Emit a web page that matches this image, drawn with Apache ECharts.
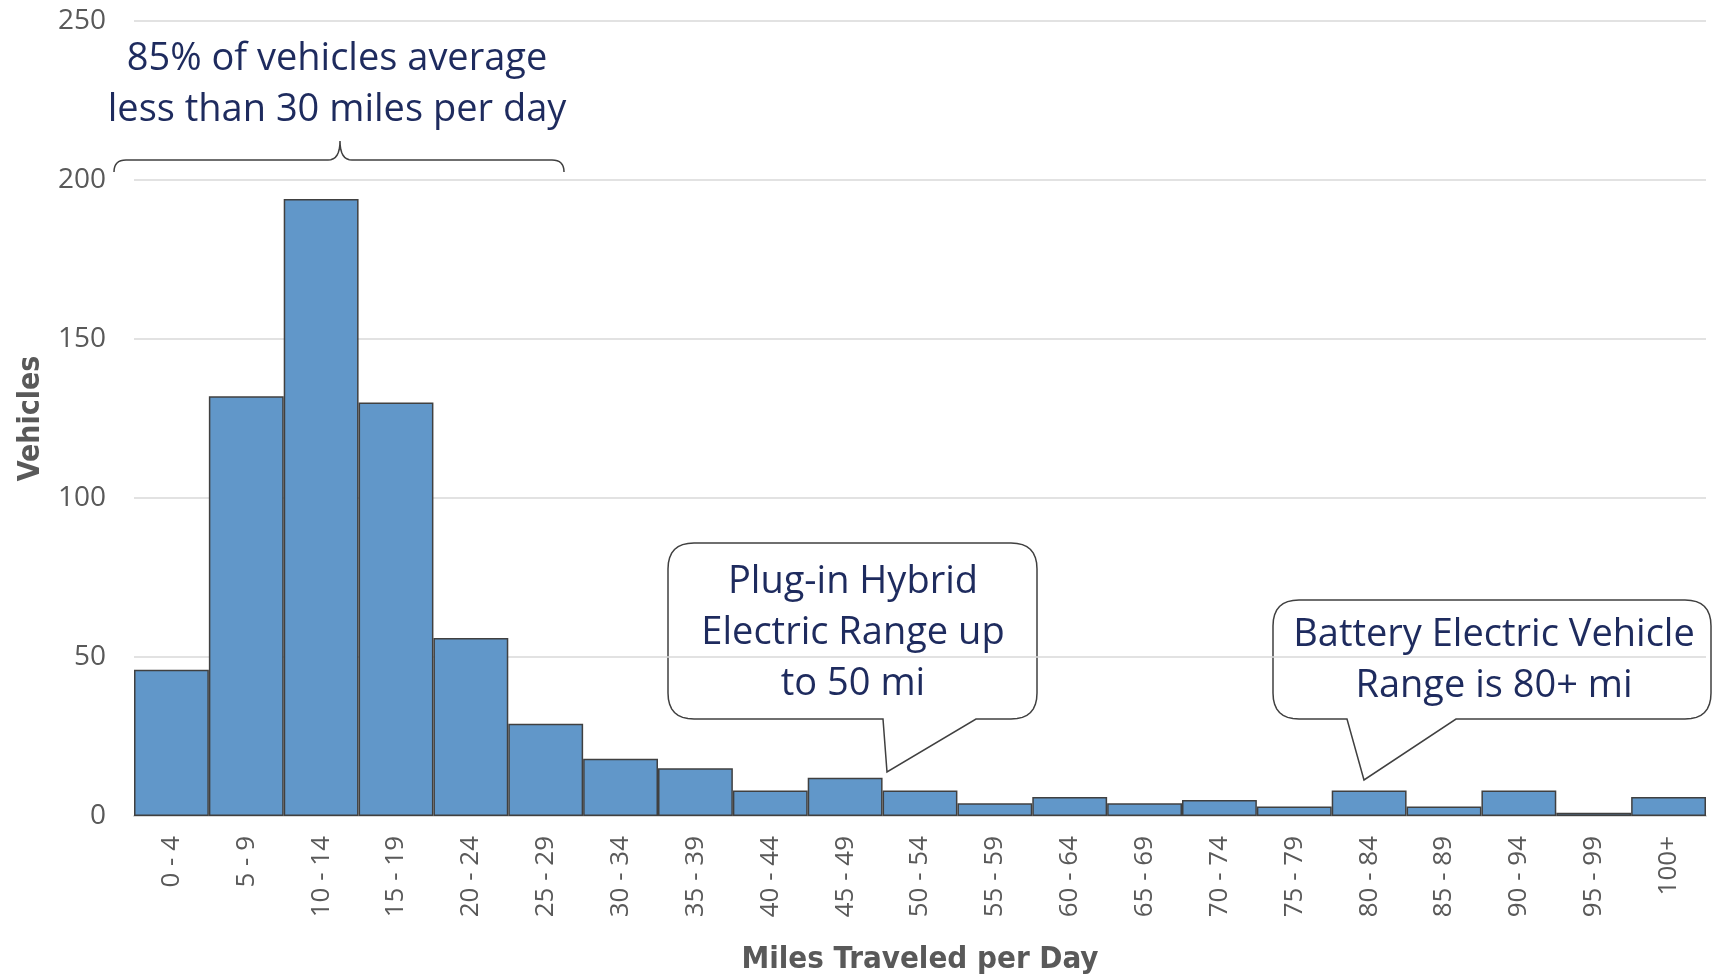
<!DOCTYPE html>
<html>
<head>
<meta charset="utf-8">
<script src="https://cdn.jsdelivr.net/npm/echarts@6/dist/echarts.min.js"></script>
<style>
  html, body { margin: 0; padding: 0; background: #fff; }
  #chart { width: 1713px; height: 977px; }
</style>
</head>
<body>
<div id="chart"></div>
<script>
// miles bins and vehicle counts
const categories = ['0 - 4', '5 - 9', '10 - 14', '15 - 19', '20 - 24', '25 - 29', '30 - 34', '35 - 39',
  '40 - 44', '45 - 49', '50 - 54', '55 - 59', '60 - 64', '65 - 69', '70 - 74', '75 - 79',
  '80 - 84', '85 - 89', '90 - 94', '95 - 99', '100+'];
const vehicles = [46, 132, 194, 130, 56, 29, 18, 15, 8, 12, 8, 4, 6, 4, 5, 3, 8, 3, 8, 1, 6];
const yTicks = [0, 50, 100, 150, 200, 250];

const navy = '#1E2B5E';
const grey = '#595959';
const noteFont = '38px "Open Sans", sans-serif';

const chart = echarts.init(document.getElementById('chart'));

// sample a quadratic curve p0 -> p2 with control p1 into points
const quad = (p0, p1, p2, n = 8) => {
	const pts = [];
	for (let i = 1; i <= n; i++) {
		const t = i / n, u = 1 - t;
		pts.push([u * u * p0[0] + 2 * u * t * p1[0] + t * t * p2[0], u * u * p0[1] + 2 * u * t * p1[1] + t * t * p2[1]]);
	}
	return pts;
};

// rounded box with a pointer on the bottom edge
const callout = (L, R, T, B, r, xa, xb, tip) => [
	[L + r, T], [R - r, T],
	...quad([R - r, T], [R, T], [R, T + r]),
	[R, B - r],
	...quad([R, B - r], [R, B], [R - r, B]),
	[xb, B], tip, [xa, B], [L + r, B],
	...quad([L + r, B], [L, B], [L, B - r]),
	[L, T + r],
	...quad([L, T + r], [L, T], [L + r, T]),
];

const brace = [
	[114, 172], ...quad([114, 172], [114, 160], [126, 160]),
	[328, 160], ...quad([328, 160], [340, 160], [340, 141]),
	...quad([340, 141], [340, 160], [352, 160]),
	[552, 160], ...quad([552, 160], [564, 160], [564, 172]),
];

const option = {
	animation: false,
	grid: { left: 134, right: 7, top: 21, bottom: 161, outerBoundsMode: 'none' },
	xAxis: {
		type: 'category',
		data: categories,
		axisTick: { show: false },
		axisLine: { lineStyle: { color: '#D9D9D9', width: 2 } },
		axisLabel: {
			interval: 0, rotate: 90, margin: 20,
			fontSize: 26, color: grey, fontFamily: '"Open Sans", sans-serif',
		},
		name: 'Miles Traveled per Day',
		nameLocation: 'middle',
		nameGap: 128,
		nameTextStyle: { fontSize: 31, fontWeight: 'bold', color: grey, fontFamily: '"DejaVu Sans Condensed", sans-serif' },
	},
	yAxis: {
		type: 'value',
		min: yTicks[0],
		max: yTicks[yTicks.length - 1],
		interval: 50,
		axisLine: { show: false },
		axisTick: { show: false },
		splitLine: { lineStyle: { color: '#D9D9D9', width: 1.5 } },
		axisLabel: { margin: 28, fontSize: 28, color: grey, fontFamily: '"Open Sans", sans-serif' },
		name: 'Vehicles',
		nameLocation: 'middle',
		nameGap: 88,
		nameTextStyle: { fontSize: 30, fontWeight: 'bold', color: grey, fontFamily: '"DejaVu Sans Condensed", sans-serif' },
	},
	series: [{
		type: 'bar',
		data: vehicles,
		barCategoryGap: '0%',
		itemStyle: { color: '#6197C9', borderColor: '#404040', borderWidth: 1.5 },
	}],
	graphic: [
		{
			type: 'polyline',
			shape: { points: brace },
			style: { fill: 'none', stroke: '#404040', lineWidth: 1.5 },
		},
		{
			type: 'text',
			style: {
				text: '85% of vehicles average\nless than 30 miles per day',
				x: 337, y: 85, align: 'center', verticalAlign: 'middle',
				font: noteFont, lineHeight: 51, fill: navy,
			},
		},
		{
			type: 'polygon',
			shape: { points: callout(668, 1037, 543, 719, 26, 883, 976, [887, 772]) },
			style: { fill: 'none', stroke: '#404040', lineWidth: 1.5 },
		},
		{
			type: 'text',
			style: {
				text: 'Plug-in Hybrid\nElectric Range up\nto 50 mi',
				x: 853, y: 633, align: 'center', verticalAlign: 'middle',
				font: noteFont, lineHeight: 51, fill: navy,
			},
		},
		{
			type: 'polygon',
			shape: { points: callout(1273, 1711, 600, 719, 26, 1347, 1456, [1364, 780]) },
			style: { fill: 'none', stroke: '#404040', lineWidth: 1.5 },
		},
		{
			type: 'text',
			style: {
				text: 'Battery Electric Vehicle\nRange is 80+ mi',
				x: 1494, y: 661, align: 'center', verticalAlign: 'middle',
				font: noteFont, lineHeight: 51, fill: navy,
			},
		},
	],
};

chart.setOption(option);
</script>
</body>
</html>
